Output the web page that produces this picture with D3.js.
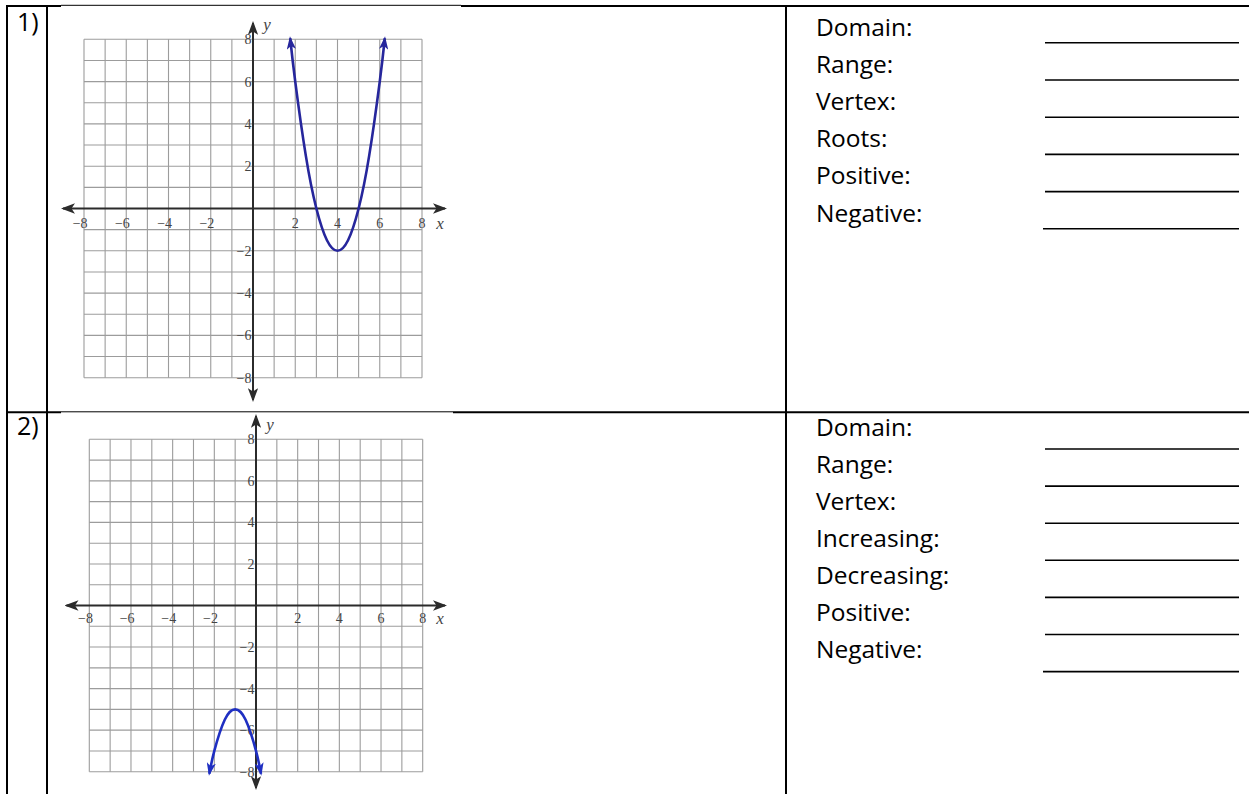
<!DOCTYPE html>
<html>
<head>
<meta charset="utf-8">
<script src="https://cdn.jsdelivr.net/npm/d3@7"></script>
<style>
  html, body { margin: 0; padding: 0; background: #fff; overflow: hidden; }
  svg { display: block; }
</style>
</head>
<body>
<svg id="sheet" width="1249" height="794"></svg>
<script>
// ---- worksheet content ----
const questionNumbers = ["1)", "2)"];
const tickLabels = [-8, -6, -4, -2, 2, 4, 6, 8];

// points on each parabola (x, y in graph units)
const parabola1X = [1.76, 2, 2.5, 3, 3.5, 4, 4.5, 5, 5.5, 6, 6.24];
const parabola1Y = [8.05, 6, 2.5, 0, -1.5, -2, -1.5, 0, 2.5, 6, 8.05];
const parabola2X = [-2.24, -2, -1.5, -1, -0.5, 0, 0.24];
const parabola2Y = [-8.1, -7, -5.5, -5, -5.5, -7, -8.1];

const fields1 = ["Domain:", "Range:", "Vertex:", "Roots:", "Positive:", "Negative:"];
const fields2 = ["Domain:", "Range:", "Vertex:", "Increasing:", "Decreasing:", "Positive:", "Negative:"];

// ---- layout ----
const W = 1249, H = 794;
const svg = d3.select("#sheet");
svg.append("rect").attr("width", W).attr("height", H).attr("fill", "#fff");

const defs = svg.append("defs");
function arrowMarker(id, color, len, half) {
  defs.append("marker")
    .attr("id", id)
    .attr("viewBox", `0 ${-half} ${len} ${half * 2}`)
    .attr("refX", len - 2).attr("refY", 0)
    .attr("markerWidth", len).attr("markerHeight", half * 2)
    .attr("markerUnits", "userSpaceOnUse")
    .attr("orient", "auto-start-reverse")
    .append("path")
    .attr("d", `M0,${-half}L${len},0L0,${half}L${len * 0.25},0Z`)
    .attr("fill", color);
}
arrowMarker("axisArrow", "#2b2b2b", 14, 5.2);
arrowMarker("curveArrow1", "#26269c", 13, 4.6);
arrowMarker("curveArrow2", "#1f2fc2", 13, 4.6);

// ---- table rules ----
const rules = svg.append("g").attr("stroke", "#000").attr("fill", "none");
function hRule(x1, x2, y, w) {
  rules.append("line").attr("x1", x1).attr("x2", x2).attr("y1", y).attr("y2", y).attr("stroke-width", w);
}
function vRule(x, y1, y2, w) {
  rules.append("line").attr("x1", x).attr("x2", x).attr("y1", y1).attr("y2", y2).attr("stroke-width", w);
}
// top rule (thin where the graph picture overlaps it)
hRule(6, 61, 6, 2);
hRule(61, 461, 5.3, 1);
hRule(461, W, 6, 2);
// rule between the two rows
hRule(6, 61, 412.3, 2);
hRule(61, 453, 411.8, 1);
hRule(453, W, 412.3, 2);
vRule(7, 5, H, 2);
vRule(47, 5, H, 2);
vRule(786, 5, H, 2);

// question numbers
const textFont = "'Open Sans', 'Noto Sans', sans-serif";
svg.selectAll("text.qnum").data(questionNumbers).join("text")
  .attr("class", "qnum")
  .attr("x", 17)
  .attr("y", (d, i) => [31, 435][i])
  .attr("font-family", textFont).attr("font-size", 25).attr("fill", "#000")
  .text(d => d);

// ---- answer fields ----
function drawFields(list, baseY, lineY, step) {
  const g = svg.append("g");
  g.selectAll("text").data(list).join("text")
    .attr("x", 816)
    .attr("y", (d, i) => baseY + i * step)
    .attr("font-family", textFont).attr("font-size", 24.5).attr("fill", "#000")
    .text(d => d);
  g.selectAll("line").data(list).join("line")
    .attr("x1", (d, i) => i === list.length - 1 ? 1043 : 1045)
    .attr("x2", 1239)
    .attr("y1", (d, i) => lineY + i * step)
    .attr("y2", (d, i) => lineY + i * step)
    .attr("stroke", "#000").attr("stroke-width", 1.6);
}
drawFields(fields1, 35.5, 42.8, 37.2);
drawFields(fields2, 435.5, 449, 37.1);

// ---- coordinate grids ----
function drawGraph(opts) {
  const x = d3.scaleLinear().domain([-8, 8]).range([opts.left, opts.right]);
  const y = d3.scaleLinear().domain([-8, 8]).range([opts.bottom, opts.top]);
  const g = svg.append("g");

  const grid = g.append("g").attr("stroke", "#9c9c9c").attr("stroke-width", 1.1).attr("fill", "none");
  grid.selectAll("line.v").data(x.ticks(16)).join("line").attr("class", "v")
    .attr("x1", d => x(d)).attr("x2", d => x(d))
    .attr("y1", y(8)).attr("y2", y(-8));
  grid.selectAll("line.h").data(y.ticks(16)).join("line").attr("class", "h")
    .attr("y1", d => y(d)).attr("y2", d => y(d))
    .attr("x1", x(-8)).attr("x2", x(8));

  // tick labels
  const serif = "'Liberation Serif', 'DejaVu Serif', serif";
  const fmt = d3.format("");
  g.append("g").selectAll("text").data(tickLabels).join("text")
    .attr("x", d => x(d) + (d < 0 ? 3.6 : 0))
    .attr("y", y(0) + opts.xLabelOffset)
    .attr("dy", "0.35em")
    .attr("text-anchor", d => d < 0 ? "end" : "middle")
    .attr("font-family", serif).attr("font-size", 14).attr("fill", "#444")
    .text(d => fmt(d));
  g.append("g").selectAll("text").data(tickLabels).join("text")
    .attr("x", x(0) - 1.5)
    .attr("y", d => y(d))
    .attr("dy", "0.35em")
    .attr("text-anchor", "end")
    .attr("font-family", serif).attr("font-size", 14).attr("fill", "#444")
    .text(d => fmt(d));

  // axes with arrowheads
  const axes = g.append("g").attr("stroke", "#2b2b2b").attr("stroke-width", 2);
  axes.append("line")
    .attr("x1", opts.xAxisFrom).attr("x2", opts.xAxisTo)
    .attr("y1", y(0)).attr("y2", y(0))
    .attr("marker-start", "url(#axisArrow)").attr("marker-end", "url(#axisArrow)");
  axes.append("line")
    .attr("x1", x(0)).attr("x2", x(0))
    .attr("y1", opts.yAxisFrom).attr("y2", opts.yAxisTo)
    .attr("marker-start", "url(#axisArrow)").attr("marker-end", "url(#axisArrow)");

  // axis names
  g.append("text").attr("x", opts.xNameX).attr("y", y(0) + opts.xLabelOffset)
    .attr("dy", "0.35em").attr("text-anchor", "middle")
    .attr("font-family", serif).attr("font-style", "italic").attr("font-size", 17).attr("fill", "#444")
    .text("x");
  g.append("text").attr("x", x(0) + opts.yNameDx).attr("y", opts.yNameY)
    .attr("dy", "0.35em").attr("text-anchor", "middle")
    .attr("font-family", serif).attr("font-style", "italic").attr("font-size", 17).attr("fill", "#444")
    .text("y");

  // the parabola
  const pts = opts.xs.map((v, i) => [v, opts.ys[i]]);
  const line = d3.line().x(d => x(d[0])).y(d => y(d[1])).curve(d3.curveNatural);
  g.append("path")
    .attr("d", line(pts))
    .attr("fill", "none")
    .attr("stroke", opts.color).attr("stroke-width", 2.6)
    .attr("marker-start", `url(#${opts.marker})`).attr("marker-end", `url(#${opts.marker})`);
}

drawGraph({
  left: 84, right: 422, top: 39.3, bottom: 377.7,
  xAxisFrom: 63, xAxisTo: 445, yAxisFrom: 400, yAxisTo: 23,
  xLabelOffset: 14.5, xNameX: 440, yNameDx: 14, yNameY: 24,
  xs: parabola1X, ys: parabola1Y, color: "#26269c", marker: "curveArrow1"
});
drawGraph({
  left: 89.3, right: 422.7, top: 439.3, bottom: 771.7,
  xAxisFrom: 66.5, xAxisTo: 445, yAxisFrom: 788, yAxisTo: 416,
  xLabelOffset: 12.5, xNameX: 440, yNameDx: 14, yNameY: 424,
  xs: parabola2X, ys: parabola2Y, color: "#1f2fc2", marker: "curveArrow2"
});
</script>
</body>
</html>
